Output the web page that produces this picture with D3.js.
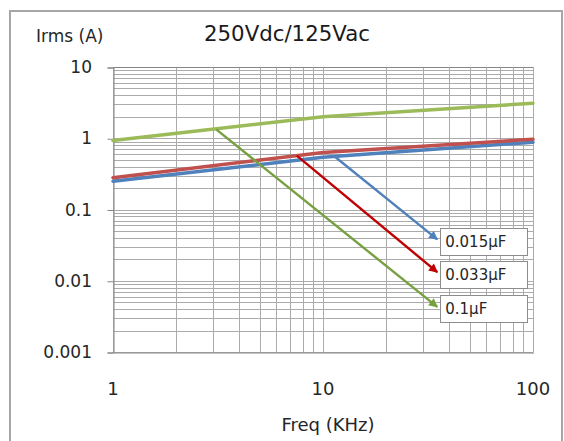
<!DOCTYPE html>
<html>
<head>
<meta charset="utf-8">
<script src="https://cdn.jsdelivr.net/npm/d3@7"></script>
<style>
  html, body { margin: 0; padding: 0; background: #fff; }
  svg { display: block; font-family: "DejaVu Sans", sans-serif; }
</style>
</head>
<body>
<svg id="chart" width="564" height="441"></svg>
<script>
// ---- data ----
const chartTitle = "250Vdc/125Vac";
const yTitle = "Irms (A)";
const xTitle = "Freq (KHz)";
const xTicks = [1, 10, 100];
const yTicks = [0.001, 0.01, 0.1, 1, 10];
const yTickLabels = ["0.001", "0.01", "0.1", "1", "10"];

const seriesNames = ["0.015μF", "0.033μF", "0.1μF"];
const seriesColors = ["#4f81bd", "#c0504d", "#9bbb59"];
const arrowColors = ["#4f81bd", "#c00000", "#77a040"];
const flatFreq = [1, 10, 100];
const blueValues = [0.25, 0.54, 0.88];
const redValues = [0.28, 0.63, 0.97];
const greenValues = [0.93, 2.0, 3.1];

const arrowStartFreq = [11.4, 7.5, 3.1];
const arrowStartValue = [0.55, 0.57, 1.33];
const arrowEndFreq = [35, 35, 35];
const arrowEndValue = [0.038, 0.0132, 0.0043];

// ---- layout ----
const svg = d3.select("#chart");
const pLeft = 113, pRight = 533, pTop = 67, pBottom = 352;
const x = d3.scaleLog().domain([1, 100]).range([pLeft, pRight]);
const y = d3.scaleLog().domain([0.001, 10]).range([pBottom, pTop]);

// outer border
svg.append("path")
  .attr("d", `M10,441 L10,11 L562,11 L562,441`)
  .attr("fill", "none").attr("stroke", "#a6a6a6").attr("stroke-width", 2);

// gridlines (major + minor)
const xGrid = [];
for (let d = 1; d < 100; d *= 10) for (let k = 1; k <= 9; k++) xGrid.push(d * k);
xGrid.push(100);
const yGrid = [];
for (let d = 0.001; d < 10; d *= 10) for (let k = 1; k <= 9; k++) yGrid.push(+(d * k).toPrecision(6));
yGrid.push(10);

const grid = svg.append("g").attr("stroke", "#ababab").attr("stroke-width", 1);
grid.selectAll("line.v").data(xGrid).join("line")
  .attr("x1", d => Math.round(x(d)) + 0.5).attr("x2", d => Math.round(x(d)) + 0.5)
  .attr("y1", pTop).attr("y2", pBottom);
grid.selectAll("line.h").data(yGrid).join("line")
  .attr("y1", d => Math.round(y(d)) + 0.5).attr("y2", d => Math.round(y(d)) + 0.5)
  .attr("x1", pLeft).attr("x2", pRight);

// axes
const yAxis = d3.axisLeft(y).tickValues(yTicks).tickSize(6).tickFormat("");
const gy = svg.append("g").attr("transform", `translate(${pLeft + 0.5},0.5)`).call(yAxis);
gy.select(".domain").attr("stroke", "#868686");
gy.selectAll(".tick line").attr("stroke", "#868686");

const xAxis = d3.axisBottom(x).tickValues(xTicks).tickSize(0).tickFormat("");
const gx = svg.append("g").attr("transform", `translate(0.5,${pBottom + 0.5})`).call(xAxis);
gx.select(".domain").attr("stroke", "#868686");
svg.append("line").attr("x1", pLeft).attr("x2", pRight).attr("y1", pTop + 0.5).attr("y2", pTop + 0.5).attr("stroke", "#868686");

// tick labels
svg.selectAll("text.ytl").data(yTicks).join("text")
  .attr("x", 92).attr("y", d => y(d) + 1)
  .attr("text-anchor", "end").attr("dominant-baseline", "middle")
  .attr("font-size", 17).attr("fill", "#262626")
  .text((d, i) => yTickLabels[i]);
svg.selectAll("text.xtl").data(xTicks).join("text")
  .attr("x", d => x(d)).attr("y", 395)
  .attr("text-anchor", "middle")
  .attr("font-size", 18).attr("fill", "#262626")
  .text(d => String(d));

// titles
svg.append("text").attr("x", 36).attr("y", 42).attr("font-size", 17).attr("fill", "#262626").text(yTitle);
svg.append("text").attr("x", 204).attr("y", 41).attr("font-size", 21.3).attr("fill", "#1a1a1a").text(chartTitle);
svg.append("text").attr("x", 328).attr("y", 431).attr("text-anchor", "middle").attr("font-size", 18).attr("fill", "#262626").text(xTitle);

// series lines
const allValues = [blueValues, redValues, greenValues];
const line = d3.line().x(d => x(d[0])).y(d => y(d[1]));
allValues.forEach((vals, i) => {
  svg.append("path")
    .datum(flatFreq.map((f, j) => [f, vals[j]]))
    .attr("d", line)
    .attr("fill", "none").attr("stroke", seriesColors[i]).attr("stroke-width", 3.5)
    .attr("stroke-linecap", "round");
});

// arrow markers
const defs = svg.append("defs");
arrowColors.forEach((c, i) => {
  defs.append("marker").attr("id", "arr" + i)
    .attr("viewBox", "0 0 10 10").attr("refX", 9).attr("refY", 5)
    .attr("markerWidth", 10).attr("markerHeight", 9).attr("markerUnits", "userSpaceOnUse")
    .attr("orient", "auto")
    .append("path").attr("d", "M0,0 L10,5 L0,10 Z").attr("fill", c);
});

seriesNames.forEach((name, i) => {
  const x1 = x(arrowStartFreq[i]), y1 = y(arrowStartValue[i]);
  const x2 = x(arrowEndFreq[i]), y2 = y(arrowEndValue[i]);
  svg.append("line").attr("x1", x1).attr("y1", y1).attr("x2", x2).attr("y2", y2)
    .attr("stroke", arrowColors[i]).attr("stroke-width", 2.4)
    .attr("marker-end", `url(#arr${i})`);
  const bx = x2 + 3, by = y2 + 2;
  svg.append("rect").attr("x", Math.round(bx) + 0.5).attr("y", Math.round(by - 13.5) + 0.5)
    .attr("width", 87).attr("height", 27)
    .attr("fill", "#fff").attr("stroke", "#8c8c8c").attr("stroke-width", 1);
  svg.append("text").attr("x", bx + 5).attr("y", by + 1)
    .attr("dominant-baseline", "middle").attr("font-size", 15).attr("fill", "#262626")
    .text(name);
});
</script>
</body>
</html>
